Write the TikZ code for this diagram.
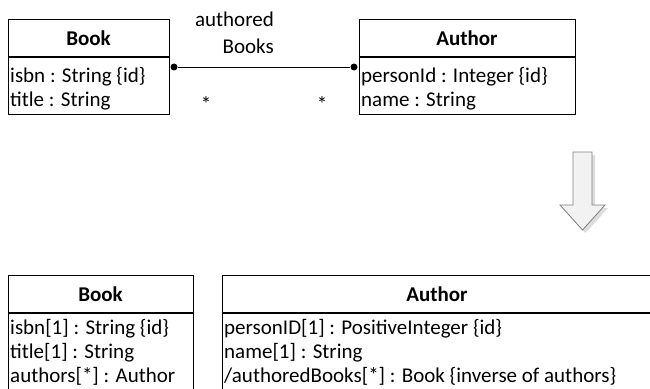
\documentclass[tikz,border=0pt]{standalone}
\usepackage{fontspec}
\setmainfont{Carlito}
\definecolor{arrowfill}{HTML}{F2F2F2}
\definecolor{arrowline}{HTML}{7F7F7F}
\definecolor{arrowshadow}{HTML}{DDDDDD}
\begin{document}
\begin{tikzpicture}[x=1pt,y=-1pt,
  font=\fontsize{21}{25}\selectfont,
  classbox/.style={draw, line width=1.3pt, inner sep=0pt, anchor=north west},
  divider/.style={line width=1.3pt},
  attr/.style={anchor=base west, inner sep=0pt},
  ttl/.style={anchor=base, inner sep=0pt, font=\fontsize{21}{25}\selectfont\bfseries},
  lbl/.style={anchor=base east, inner sep=0pt},
  mult/.style={anchor=base, inner sep=0pt},
  enddot/.style={circle, fill=black, inner sep=0pt, minimum size=7pt},
  conn/.style={line width=0.9pt}]
\useasboundingbox (0,0) rectangle (650,388);
\clip (0,0) rectangle (650,388);

% ---------- top: Book ----------
\node[classbox, minimum width=161pt, minimum height=95pt] (bookA) at (8,19) {};
\draw[divider] (8,57) -- (169,57);
\node[ttl] (bookAt) at (88.5,45) {Book};
\node[attr] (bookA1) at (10,82) {isbn : String \{id\}};
\node[attr] (bookA2) at (10,106) {title : String};

% ---------- top: Author ----------
\node[classbox, minimum width=216pt, minimum height=95pt] (authA) at (359,19) {};
\draw[divider] (359,57) -- (575,57);
\node[ttl] (authAt) at (467,45) {Author};
\node[attr] (authA1) at (361,82) {personId : Integer \{id\}};
\node[attr] (authA2) at (361,106) {name : String};

% ---------- association ----------
\node[enddot] (d1) at (174,67) {};
\node[enddot] (d2) at (354,67) {};
\draw[conn] (d1) -- (d2);
\node[lbl] (role1) at (274,27) {authored};
\node[lbl] (role2) at (274,53) {Books};
\node[mult] (m1) at (206,111) {*};
\node[mult] (m2) at (322,111) {*};

% ---------- transformation arrow ----------
\fill[arrowshadow] (576,155) -- (595,155) -- (595,208) -- (608,208) -- (585.5,233) -- (563,208) -- (576,208) -- cycle;
\draw[fill=arrowfill, draw=arrowline, line width=0.8pt, line join=miter]
  (573,152) -- (592,152) -- (592,205) -- (605,205) -- (582.5,230) -- (560,205) -- (573,205) -- cycle;

% ---------- bottom: Book ----------
\node[classbox, minimum width=185pt, minimum height=130pt] (bookB) at (8,275) {};
\draw[divider] (8,313) -- (193,313);
\node[ttl] (bookBt) at (100.5,301) {Book};
\node[attr] (bookB1) at (10,334) {isbn[1] : String \{id\}};
\node[attr] (bookB2) at (10,358) {title[1] : String};
\node[attr] (bookB3) at (10,382) {authors[*] : Author};

% ---------- bottom: Author ----------
\node[classbox, minimum width=430pt, minimum height=130pt] (authB) at (222,275) {};
\draw[divider] (222,313) -- (652,313);
\node[ttl] (authBt) at (437,301) {Author};
\node[attr] (authB1) at (224,334) {personID[1] : PositiveInteger \{id\}};
\node[attr] (authB2) at (224,358) {name[1] : String};
\node[attr] (authB3) at (224,382) {/authoredBooks[*] : Book \{inverse of authors\}};
\end{tikzpicture}
\end{document}
